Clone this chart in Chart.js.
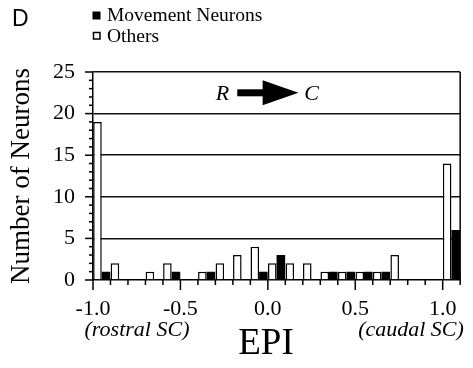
<!DOCTYPE html>
<html>
<head>
<meta charset="utf-8">
<script src="https://cdn.jsdelivr.net/npm/chart.js@4/dist/chart.umd.min.js"></script>
<style>
  html, body { margin: 0; padding: 0; background: #fff; }
  canvas { display: block; }
</style>
</head>
<body>
<canvas id="epiChart" width="473" height="368"></canvas>
<script>
// EPI histogram: bins of 0.1, centres listed below
const binCenters = [-0.95, -0.85, -0.75, -0.65, -0.55, -0.45, -0.35, -0.25, -0.15, -0.05,
                    0.05, 0.15, 0.25, 0.35, 0.45, 0.55, 0.65, 0.75, 0.85, 0.95, 1.05];
const othersCounts   = [19, 2, 0, 1, 2, 0, 1, 2, 3, 4, 2, 2, 2, 1, 1, 1, 1, 3, 0, 0, 14];
const movementCounts = [1, 0, 0, 0, 1, 0, 1, 0, 0, 1, 3, 0, 0, 1, 1, 1, 1, 0, 0, 0, 6];
const xTickValues = [-1.0, -0.5, 0.0, 0.5, 1.0];
const yTickValues = [0, 5, 10, 15, 20, 25];

const serif = "'Liberation Serif', 'Times New Roman', serif";

// Axis tick marks, frame, legend and annotations
const decorations = {
    id: 'decorations',
    afterDraw(chart) {
        const ctx = chart.ctx;
        const area = chart.chartArea;
        const xs = chart.scales.x;
        const ys = chart.scales.y;
        ctx.save();
        ctx.strokeStyle = '#000';
        ctx.fillStyle = '#000';
        ctx.lineWidth = 1.5;

        // right frame
        ctx.beginPath();
        ctx.moveTo(area.right, area.top);
        ctx.lineTo(area.right, area.bottom);
        ctx.stroke();

        // y ticks every 1, longer every 5
        for (let v = 0; v <= 25; v++) {
            const y = ys.getPixelForValue(v);
            const len = v % 5 === 0 ? 8 : 4;
            ctx.beginPath();
            ctx.moveTo(area.left - len, y);
            ctx.lineTo(area.left, y);
            ctx.stroke();
        }
        // x ticks every 0.1, longer every 0.5
        for (let i = 0; i <= 21; i++) {
            const v = -1 + i * 0.1;
            const x = xs.getPixelForValue(v);
            const len = i % 5 === 0 ? 10 : 5;
            ctx.beginPath();
            ctx.moveTo(x, area.bottom);
            ctx.lineTo(x, area.bottom + len);
            ctx.stroke();
        }

        // direction arrow R -> C
        const ay = ys.getPixelForValue(22.5);
        ctx.font = 'italic 22px ' + serif;
        ctx.textBaseline = 'middle';
        ctx.textAlign = 'center';
        ctx.fillText('R', xs.getPixelForValue(-0.26), ay + 1);
        ctx.fillText('C', xs.getPixelForValue(0.25), ay + 1);
        const x0 = xs.getPixelForValue(-0.175);
        const xh = xs.getPixelForValue(-0.03);
        const x1 = xs.getPixelForValue(0.175);
        ctx.fillRect(x0, ay - 3.5, xh - x0 + 1, 7);
        ctx.beginPath();
        ctx.moveTo(xh, ay - 12.5);
        ctx.lineTo(x1, ay);
        ctx.lineTo(xh, ay + 12.5);
        ctx.closePath();
        ctx.fill();

        // x-axis notes and title
        ctx.textBaseline = 'alphabetic';
        ctx.font = 'italic 22px ' + serif;
        ctx.fillText('(rostral SC)', 137, 336);
        ctx.fillText('(caudal SC)', 411, 336);
        ctx.font = '37px ' + serif;
        ctx.fillText('EPI', 266, 354);

        // panel letter
        ctx.textAlign = 'left';
        ctx.font = "23px 'Liberation Sans', Arial, sans-serif";
        ctx.fillText('D', 12, 26);

        // legend
        ctx.font = '19.5px ' + serif;
        ctx.fillRect(92.5, 11.5, 8, 8);
        ctx.fillText('Movement Neurons', 107, 21);
        ctx.lineWidth = 1.5;
        ctx.strokeRect(93.5, 32.5, 6.5, 6.5);
        ctx.fillText('Others', 107, 42);
        ctx.restore();
    }
};

const epiCtx = document.getElementById('epiChart').getContext('2d');
new Chart(epiCtx, {
    type: 'bar',
    data: {
        datasets: [{
            label: 'Others',
            data: binCenters.map((x, i) => ({ x: x, y: othersCounts[i] })),
            backgroundColor: '#fff',
            borderColor: '#000',
            borderWidth: 1.5
        }, {
            label: 'Movement Neurons',
            data: binCenters.map((x, i) => ({ x: x, y: movementCounts[i] })),
            backgroundColor: '#000',
            borderColor: '#000',
            borderWidth: 0
        }]
    },
    options: {
        responsive: false,
        animation: false,
        devicePixelRatio: 1,
        categoryPercentage: 0.98,
        barPercentage: 1.0,
        layout: { padding: { top: 72, right: 12, left: 0, bottom: 0 } },
        plugins: {
            legend: { display: false },
            tooltip: { enabled: false }
        },
        scales: {
            x: {
                type: 'linear',
                min: -1.0,
                max: 1.1,
                offset: false,
                afterBuildTicks: scale => { scale.ticks = xTickValues.map(v => ({ value: v })); },
                afterFit: scale => { scale.height = 88; },
                grid: { display: false, drawTicks: false, offset: false },
                border: { display: true, color: '#000', width: 1.5 },
                ticks: {
                    padding: 16,
                    color: '#000',
                    font: { family: serif, size: 22 },
                    maxRotation: 0,
                    callback: value => value.toFixed(1)
                }
            },
            y: {
                min: 0,
                max: 25,
                afterBuildTicks: scale => { scale.ticks = yTickValues.map(v => ({ value: v })); },
                afterFit: scale => { scale.width = 93; },
                grid: {
                    drawTicks: false,
                    color: c => c.tick && c.tick.value > 0 ? '#111' : 'rgba(0,0,0,0)',
                    lineWidth: 1.5
                },
                border: { display: true, color: '#000', width: 1.5 },
                ticks: {
                    padding: 18,
                    color: '#000',
                    font: { family: serif, size: 22 }
                },
                title: {
                    display: true,
                    text: 'Number of Neurons',
                    color: '#000',
                    font: { family: serif, size: 27 },
                    padding: { top: 6, bottom: 0 }
                }
            }
        }
    },
    plugins: [decorations]
});
</script>
</body>
</html>
